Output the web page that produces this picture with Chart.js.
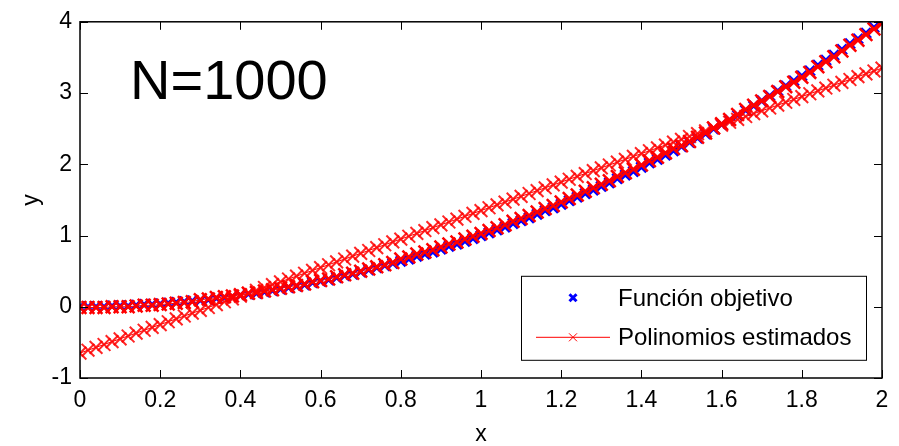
<!DOCTYPE html>
<html>
<head>
<meta charset="utf-8">
<script src="https://cdn.jsdelivr.net/npm/chart.js@4"></script>
<style>
    html, body { margin: 0; padding: 0; background: #fff; }
    #wrap { width: 899px; height: 446px; }
</style>
</head>
<body>
<div id="wrap"><canvas id="plot"></canvas></div>
<script>
// muestras en x
const xs = [
    0, 0.02, 0.04, 0.06, 0.08, 0.1, 0.12, 0.14, 0.16, 0.18,
    0.2, 0.22, 0.24, 0.26, 0.28, 0.3, 0.32, 0.34, 0.36, 0.38,
    0.4, 0.42, 0.44, 0.46, 0.48, 0.5, 0.52, 0.54, 0.56, 0.58,
    0.6, 0.62, 0.64, 0.66, 0.68, 0.7, 0.72, 0.74, 0.76, 0.78,
    0.8, 0.82, 0.84, 0.86, 0.88, 0.9, 0.92, 0.94, 0.96, 0.98,
    1, 1.02, 1.04, 1.06, 1.08, 1.1, 1.12, 1.14, 1.16, 1.18,
    1.2, 1.22, 1.24, 1.26, 1.28, 1.3, 1.32, 1.34, 1.36, 1.38,
    1.4, 1.42, 1.44, 1.46, 1.48, 1.5, 1.52, 1.54, 1.56, 1.58,
    1.6, 1.62, 1.64, 1.66, 1.68, 1.7, 1.72, 1.74, 1.76, 1.78,
    1.8, 1.82, 1.84, 1.86, 1.88, 1.9, 1.92, 1.94, 1.96, 1.98,
    2
];

// función objetivo
const objetivo = [
    0, 0, 0, 0, 0.01, 0.01, 0.01, 0.02, 0.03, 0.03,
    0.04, 0.05, 0.06, 0.07, 0.08, 0.09, 0.10, 0.12, 0.13, 0.14,
    0.16, 0.18, 0.19, 0.21, 0.23, 0.25, 0.27, 0.29, 0.31, 0.34,
    0.36, 0.38, 0.41, 0.44, 0.46, 0.49, 0.52, 0.55, 0.58, 0.61,
    0.64, 0.67, 0.71, 0.74, 0.77, 0.81, 0.85, 0.88, 0.92, 0.96,
    1.00, 1.04, 1.08, 1.12, 1.17, 1.21, 1.25, 1.30, 1.35, 1.39,
    1.44, 1.49, 1.54, 1.59, 1.64, 1.69, 1.74, 1.80, 1.85, 1.90,
    1.96, 2.02, 2.07, 2.13, 2.19, 2.25, 2.31, 2.37, 2.43, 2.50,
    2.56, 2.62, 2.69, 2.76, 2.82, 2.89, 2.96, 3.03, 3.10, 3.17,
    3.24, 3.31, 3.39, 3.46, 3.53, 3.61, 3.69, 3.76, 3.84, 3.92,
    4.00
];

// polinomio estimado de grado 1
const estLineal = [
    -0.65, -0.61, -0.57, -0.53, -0.49, -0.45, -0.41, -0.37, -0.33, -0.29,
    -0.25, -0.21, -0.17, -0.13, -0.09, -0.05, -0.01, 0.03, 0.07, 0.11,
    0.15, 0.19, 0.23, 0.27, 0.31, 0.35, 0.39, 0.43, 0.47, 0.51,
    0.55, 0.59, 0.63, 0.67, 0.71, 0.75, 0.79, 0.83, 0.87, 0.91,
    0.95, 0.99, 1.03, 1.07, 1.11, 1.15, 1.19, 1.23, 1.27, 1.31,
    1.35, 1.39, 1.43, 1.47, 1.51, 1.55, 1.59, 1.63, 1.67, 1.71,
    1.75, 1.79, 1.83, 1.87, 1.91, 1.95, 1.99, 2.03, 2.07, 2.11,
    2.15, 2.19, 2.23, 2.27, 2.31, 2.35, 2.39, 2.43, 2.47, 2.51,
    2.55, 2.59, 2.63, 2.67, 2.71, 2.75, 2.79, 2.83, 2.87, 2.91,
    2.95, 2.99, 3.03, 3.07, 3.11, 3.15, 3.19, 3.23, 3.27, 3.31,
    3.35
];

// polinomio estimado de grado 2
const estCuadratico = [
    -0.01, -0.01, -0.01, -0.01, 0, 0, 0, 0.01, 0.02, 0.02,
    0.03, 0.04, 0.05, 0.06, 0.07, 0.10, 0.11, 0.13, 0.14, 0.15,
    0.17, 0.19, 0.20, 0.22, 0.24, 0.26, 0.28, 0.30, 0.32, 0.35,
    0.37, 0.39, 0.42, 0.45, 0.47, 0.50, 0.53, 0.56, 0.59, 0.62,
    0.67, 0.70, 0.74, 0.77, 0.80, 0.84, 0.88, 0.91, 0.95, 0.99,
    1.03, 1.07, 1.11, 1.15, 1.20, 1.24, 1.28, 1.33, 1.38, 1.42,
    1.47, 1.52, 1.57, 1.62, 1.67, 1.72, 1.77, 1.83, 1.88, 1.93,
    1.99, 2.05, 2.10, 2.16, 2.22, 2.26, 2.32, 2.38, 2.44, 2.51,
    2.57, 2.63, 2.70, 2.77, 2.83, 2.89, 2.95, 3.02, 3.09, 3.15,
    3.22, 3.29, 3.37, 3.44, 3.51, 3.59, 3.67, 3.74, 3.82, 3.90,
    3.98
];

const xTicks = [0, 0.2, 0.4, 0.6, 0.8, 1, 1.2, 1.4, 1.6, 1.8, 2];
const yTicks = [-1, 0, 1, 2, 3, 4];
const legendLabels = ['Función objetivo', 'Polinomios estimados'];
const anotacion = 'N=1000';

const FONT = '"Liberation Sans", Arial, sans-serif';
Chart.defaults.font.family = FONT;
Chart.defaults.color = '#000';

function pts(ys) {
    return xs.map(function (x, i) { return { x: x, y: ys[i] }; });
}

function cross(ctx, x, y, r) {
    ctx.beginPath();
    ctx.moveTo(x - r, y - r); ctx.lineTo(x + r, y + r);
    ctx.moveTo(x - r, y + r); ctx.lineTo(x + r, y - r);
    ctx.stroke();
}

// marco, ticks hacia dentro, leyenda y texto N=1000
const matlabFrame = {
    id: 'matlabFrame',
    afterDraw: function (chart) {
        const ctx = chart.ctx;
        const a = chart.chartArea;
        const sx = chart.scales.x, sy = chart.scales.y;
        ctx.save();
        ctx.strokeStyle = '#000';
        ctx.lineWidth = 1.5;
        ctx.strokeRect(a.left, a.top, a.right - a.left, a.bottom - a.top);
        ctx.lineWidth = 1;
        ctx.beginPath();
        xTicks.forEach(function (v) {
            const px = Math.round(sx.getPixelForValue(v)) + 0.5;
            ctx.moveTo(px, a.bottom); ctx.lineTo(px, a.bottom - 8);
            ctx.moveTo(px, a.top); ctx.lineTo(px, a.top + 8);
        });
        yTicks.forEach(function (v) {
            const py = Math.round(sy.getPixelForValue(v)) + 0.5;
            ctx.moveTo(a.left, py); ctx.lineTo(a.left + 8, py);
            ctx.moveTo(a.right, py); ctx.lineTo(a.right - 8, py);
        });
        ctx.stroke();

        // leyenda
        const lx = a.right - 361, ly = a.top + 254;
        ctx.fillStyle = '#fff';
        ctx.fillRect(lx, ly, 345, 84);
        ctx.strokeStyle = '#000';
        ctx.lineWidth = 1;
        ctx.strokeRect(lx + 0.5, ly + 0.5, 345, 84);

        ctx.strokeStyle = '#0000ff';
        ctx.lineWidth = 3;
        cross(ctx, lx + 52, ly + 22, 3.5);

        ctx.strokeStyle = '#ff0000';
        ctx.lineWidth = 1;
        ctx.beginPath();
        ctx.moveTo(lx + 15, ly + 61.5); ctx.lineTo(lx + 89, ly + 61.5);
        ctx.stroke();
        cross(ctx, lx + 52, ly + 61.5, 4);

        ctx.fillStyle = '#000';
        ctx.font = '24px ' + FONT;
        ctx.textBaseline = 'alphabetic';
        ctx.textAlign = 'left';
        ctx.fillText(legendLabels[0], lx + 97, ly + 30);
        ctx.fillText(legendLabels[1], lx + 97, ly + 69);

        ctx.font = '56px ' + FONT;
        ctx.fillText(anotacion, a.left + 50, a.top + 77);
        ctx.restore();
    }
};

new Chart(document.getElementById('plot'), {
    type: 'line',
    data: {
        datasets: [
            {
                label: legendLabels[1],
                data: pts(estLineal),
                borderColor: '#ff0000',
                backgroundColor: '#ff0000',
                borderWidth: 1,
                pointStyle: 'crossRot',
                pointRadius: 9,
                pointBorderWidth: 2,
                pointBorderColor: 'rgba(255,0,0,0.85)',
                order: 0
            },
            {
                label: legendLabels[1],
                data: pts(estCuadratico),
                borderColor: '#ff0000',
                backgroundColor: '#ff0000',
                borderWidth: 1,
                pointStyle: 'crossRot',
                pointRadius: 9,
                pointBorderWidth: 2.5,
                pointBorderColor: '#ff0000',
                order: 1
            },
            {
                label: legendLabels[0],
                data: pts(objetivo),
                showLine: false,
                borderColor: '#0000ff',
                backgroundColor: '#0000ff',
                pointStyle: 'crossRot',
                pointRadius: 7,
                pointBorderWidth: 3,
                order: 2
            }
        ]
    },
    options: {
        responsive: true,
        maintainAspectRatio: false,
        animation: false,
        layout: { padding: { top: 18, right: 17, left: 0, bottom: 0 } },
        plugins: {
            legend: { display: false },
            tooltip: { enabled: false }
        },
        scales: {
            x: {
                type: 'linear',
                min: 0,
                max: 2,
                grid: { display: false, drawTicks: false },
                border: { display: false },
                afterFit: function (s) { s.height = 68; },
                afterBuildTicks: function (s) { s.ticks = xTicks.map(function (v) { return { value: v }; }); },
                ticks: {
                    font: { size: 23 },
                    padding: 9,
                    maxRotation: 0,
                    autoSkip: false,
                    callback: function (v) { return String(Number(v.toFixed(1))); }
                },
                title: { display: true, text: 'x', font: { size: 23, lineHeight: 1 }, padding: { top: 0, bottom: 0 } }
            },
            y: {
                min: -1,
                max: 4,
                grid: { display: false, drawTicks: false },
                border: { display: false },
                afterFit: function (s) { s.width = 80; },
                afterBuildTicks: function (s) { s.ticks = yTicks.map(function (v) { return { value: v }; }); },
                ticks: {
                    font: { size: 23 },
                    padding: 8,
                    autoSkip: false
                },
                title: { display: true, text: 'y', font: { size: 23 }, padding: { top: 18, bottom: 0 } }
            }
        }
    },
    plugins: [matlabFrame]
});
</script>
</body>
</html>
